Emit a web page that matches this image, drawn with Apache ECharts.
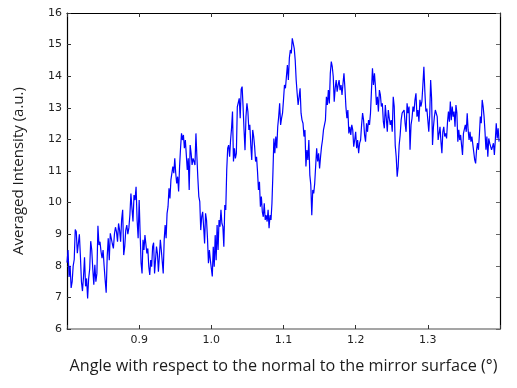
<!DOCTYPE html>
<html>
<head>
<meta charset="utf-8">
<script src="https://cdn.jsdelivr.net/npm/echarts@6/dist/echarts.min.js"></script>
<style>html,body{margin:0;padding:0;background:#fff}#c{width:517px;height:388px}</style>
</head>
<body>
<div id="c"></div>
<script>
// Angle decades (start of each 0.1-degree span) and the intensity read in each span
const segmentStarts = [0.8, 0.9, 1.0, 1.1, 1.2, 1.3];
const seg080 = [8.1, 8.5, 7.65, 8.0, 7.3, 7.5, 8.0, 8.2, 9.15, 9.08, 8.4, 8.7, 9.0, 8.3, 7.5, 7.2, 7.65, 8.27, 7.35, 7.6, 6.97, 7.6, 7.9, 8.78, 8.5, 7.9, 7.4, 8.03, 7.5, 7.76, 9.27, 8.66, 8.76, 8.45, 8.24, 8.5, 8.0, 7.55, 7.15, 8.3, 8.87, 8.18, 9.03, 9.08, 8.69, 8.55, 9.0, 9.22, 9.08, 8.76, 9.34, 9.13, 8.76, 9.47, 9.77, 8.34, 8.61, 9.13, 9.29, 9.0, 9.2, 9.61, 10.29, 9.82, 9.4, 10.24, 10.08, 10.5, 9.45, 8.87];
const seg090 = [10.08, 9.03, 8.08, 7.76, 8.82, 8.5, 8.97, 8.92, 8.39, 8.55, 7.97, 7.71, 8.18, 7.97, 8.61, 8.73, 7.76, 8.18, 8.61, 8.39, 7.81, 8.29, 8.82, 8.5, 8.55, 7.76, 8.82, 9.29, 8.87, 9.66, 9.87, 10.45, 10.13, 10.72, 10.72, 11.14, 10.93, 11.4, 10.93, 10.61, 10.82, 10.35, 11.14, 11.72, 12.19, 11.98, 12.14, 11.72, 11.98, 11.51, 11.03, 11.4, 10.4, 11.82, 11.56, 11.19, 11.4, 11.3, 11.19, 12.19, 11.45, 10.77, 10.19, 10.03, 9.13, 9.56, 9.71, 9.24, 8.71, 9.66, 9.45, 8.87, 8.08, 8.5, 8.18];
const seg100 = [7.92, 7.66, 8.6, 7.97, 8.97, 8.18, 9.29, 8.5, 9.45, 9.24, 9.77, 9.34, 9.24, 8.6, 9.92, 9.77, 11.03, 11.72, 11.82, 11.45, 11.98, 12.35, 12.88, 11.3, 11.72, 11.4, 11.56, 13.03, 13.09, 13.3, 12.67, 13.59, 13.67, 13.03, 12.3, 11.66, 12.72, 13.14, 12.88, 12.3, 12.46, 11.82, 11.35, 12.3, 12.09, 11.77, 11.3, 11.45, 10.98, 10.4, 10.66, 9.87, 10.19, 9.71, 9.55, 9.98, 9.45, 9.6, 9.4, 9.77, 9.19, 9.6, 9.45, 9.98, 10.93, 12.03, 11.56, 12.09, 11.72, 12.4, 12.72, 13.14, 12.46, 12.67, 12.83];
const seg110 = [13.25, 13.72, 13.62, 13.99, 14.35, 13.88, 14.57, 14.83, 14.72, 15.2, 15.04, 14.88, 14.51, 13.88, 13.46, 13.09, 13.35, 13.62, 12.83, 12.61, 12.51, 12.09, 12.3, 11.14, 11.66, 11.35, 11.98, 10.87, 10.56, 9.6, 10.4, 10.29, 10.61, 10.66, 11.72, 11.3, 11.56, 11.08, 11.45, 11.77, 11.98, 12.3, 12.35, 12.61, 13.35, 13.09, 13.56, 13.14, 14.09, 14.46, 14.3, 13.99, 13.19, 13.62, 13.88, 13.51, 13.72, 13.88, 13.56, 13.72, 13.41, 13.77, 14.09, 13.62, 13.03, 12.67, 12.93, 12.19, 12.4, 12.14, 12.46, 12.3, 11.77, 11.98];
const seg120 = [12.24, 11.72, 11.98, 11.56, 11.88, 11.98, 12.46, 12.83, 12.61, 12.14, 11.93, 12.51, 12.24, 12.61, 12.46, 12.83, 13.56, 14.25, 13.72, 14.09, 13.67, 13.09, 13.35, 12.88, 13.56, 13.41, 13.04, 13.14, 12.56, 12.35, 13.09, 12.67, 12.24, 12.93, 12.67, 12.46, 12.61, 12.24, 13.35, 13.04, 11.82, 11.45, 10.82, 11.14, 11.82, 12.14, 12.61, 12.83, 12.88, 12.93, 12.51, 12.24, 13.14, 12.83, 13.04, 11.67, 12.46, 12.67, 13.04, 12.88, 13.25, 13.46, 12.72, 12.93, 12.56, 13.25, 13.04, 13.2, 13.72, 14.3, 13.51, 12.88, 12.98];
const seg130 = [12.61, 12.24, 12.77, 13.88, 13.3, 11.82, 12.4, 12.72, 12.93, 12.98, 12.72, 11.98, 12.03, 12.4, 11.93, 11.56, 12.24, 12.4, 12.09, 12.19, 12.03, 12.56, 12.88, 12.56, 13.2, 12.61, 13.04, 12.72, 12.88, 12.4, 13.09, 12.83, 11.93, 12.3, 11.98, 12.14, 11.82, 11.51, 12.19, 12.14, 12.46, 12.24, 12.83, 12.3, 11.98, 12.24, 11.93, 12.09, 12.03, 12.09, 11.35, 11.24, 11.67, 11.88, 11.67, 12.14, 12.72, 12.51, 13.25, 13.04, 12.72, 12.24, 11.67, 12.09, 11.45, 12.03, 11.88, 11.82, 11.67, 11.77, 11.88, 11.51, 11.98, 12.51, 12.03, 12.35, 11.93];
const segments = [seg080, seg090, seg100, seg110, seg120, seg130];
const xTickLabels = ['0.9', '1.0', '1.1', '1.2', '1.3'];
const yTickLabels = ['6','7','8','9','10','11','12','13','14','15','16'];

const data = [];
segments.forEach((seg, s) => {
  const span = 0.1;
  seg.forEach((v, i) => data.push([segmentStarts[s] + i * span / seg.length, v]));
});

const chart = echarts.init(document.getElementById('c'), null, {renderer: 'canvas'});
const labelFont = {fontFamily: 'DejaVu Sans', fontSize: 11, color: '#222'};
chart.setOption({
  animation: false,
  backgroundColor: '#fff',
  grid: {left: 67, right: 17, top: 13, bottom: 59, containLabel: false},
  xAxis: [{
    type: 'value', min: 0.8, max: 1.4, interval: 0.1, position: 'bottom',
    name: 'Angle with respect to the normal to the mirror surface (°)',
    nameLocation: 'middle', nameGap: 29,
    nameTextStyle: {fontFamily: 'Open Sans', fontSize: 16.2, color: '#1c1c1c'},
    axisLine: {show: true, lineStyle: {color: '#888', width: 1.5}},
    axisTick: {show: true, inside: true, length: 4, lineStyle: {color: '#333'}},
    axisLabel: Object.assign({margin: 6, formatter: v => {
      const t = v.toFixed(1); return xTickLabels.includes(t) ? t : '';
    }}, labelFont),
    splitLine: {show: false}
  }, {
    type: 'value', min: 0.8, max: 1.4, interval: 0.1, position: 'top',
    axisLine: {show: true, lineStyle: {color: '#000', width: 1.2}},
    axisTick: {show: true, inside: true, length: 4, lineStyle: {color: '#333'}},
    axisLabel: {show: false}, splitLine: {show: false}
  }],
  yAxis: [{
    type: 'value', min: 6, max: 16, interval: 1, position: 'left',
    name: 'Averaged Intensity (a.u.)', nameLocation: 'middle', nameGap: 41,
    nameTextStyle: {fontFamily: 'Open Sans', fontSize: 15, color: '#1c1c1c'},
    axisLine: {show: true, lineStyle: {color: '#000', width: 1.2}},
    axisTick: {show: true, inside: true, length: 4, lineStyle: {color: '#333'}},
    axisLabel: Object.assign({margin: 5, formatter: v => {
      const t = String(Math.round(v)); return yTickLabels.includes(t) ? t : '';
    }}, labelFont),
    splitLine: {show: false}
  }, {
    type: 'value', min: 6, max: 16, interval: 1, position: 'right',
    axisLine: {show: true, lineStyle: {color: '#000', width: 1.2}},
    axisTick: {show: true, inside: true, length: 4, lineStyle: {color: '#666'}},
    axisLabel: {show: false}, splitLine: {show: false}
  }],
  series: [{
    type: 'line', data: data, xAxisIndex: 0, yAxisIndex: 0,
    showSymbol: false, symbol: 'none',
    lineStyle: {color: '#0000ff', width: 1.2}
  }]
});
</script>
</body>
</html>
